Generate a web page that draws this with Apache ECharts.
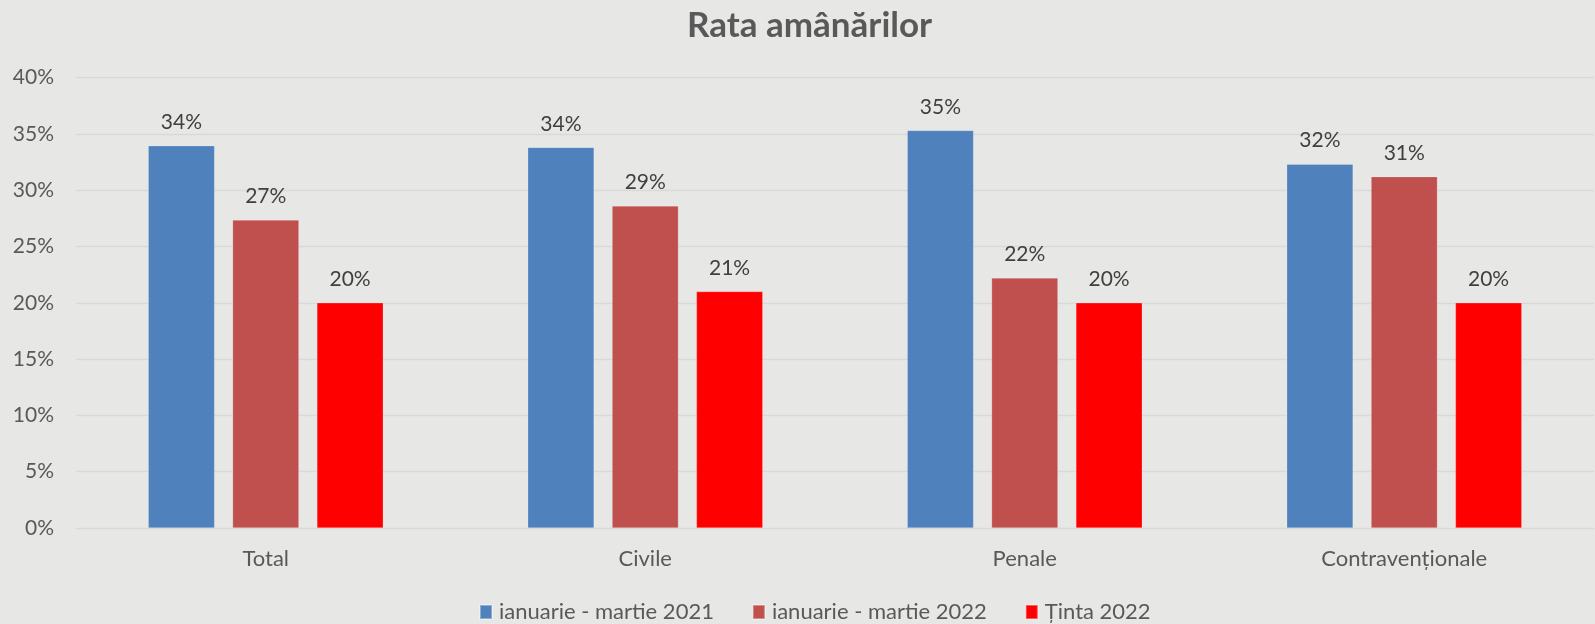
<!DOCTYPE html>
<html>
<head>
<meta charset="utf-8">
<script src="https://cdn.jsdelivr.net/npm/echarts@6/dist/echarts.min.js"></script>
<style>
html,body{margin:0;padding:0;background:#e7e7e5;}
#c{width:1595px;height:624px;}
</style>
</head>
<body>
<div id="c"></div>
<script>
const categories = ['Total', 'Civile', 'Penale', 'Contravenționale'];
const seriesNames = ['ianuarie - martie 2021', 'ianuarie - martie 2022', 'Ținta 2022'];
const jan2021 = [33.95, 33.8, 35.3, 32.3];
const jan2022 = [27.35, 28.6, 22.2, 31.2];
const tinta2022 = [20, 21, 20, 20];
const yTicks = [0, 5, 10, 15, 20, 25, 30, 35, 40];
const colors = ['#4f81bd', '#c0504d', '#ff0000'];
const FONT = 'Lato';

const chart = echarts.init(document.getElementById('c'), null, {renderer: 'canvas'});
const dataArr = [jan2021, jan2022, tinta2022];
chart.setOption({
  backgroundColor: '#e7e7e5',
  animation: false,
  title: {
    text: 'Rata amânărilor',
    left: 682,
    top: 3,
    textStyle: {fontFamily: FONT, fontSize: 35, fontWeight: 'bold', color: '#595959'}
  },
  legend: {
    bottom: -4,
    left: 474,
    itemWidth: 12,
    itemHeight: 14,
    itemGap: 38,
    icon: 'rect',
    textStyle: {fontFamily: FONT, fontSize: 22, color: '#595959', padding: [0, 0, 0, 2]},
    data: seriesNames
  },
  grid: {left: 76, right: 1, top: 77.5, bottom: 96, containLabel: false},
  xAxis: {
    type: 'category',
    data: categories,
    axisLine: {show: true, lineStyle: {color: '#d9d9d9', width: 1}},
    axisTick: {show: false},
    axisLabel: {fontFamily: FONT, fontSize: 22, color: '#595959', margin: 20}
  },
  yAxis: {
    type: 'value',
    min: yTicks[0],
    max: yTicks[yTicks.length - 1],
    interval: 5,
    axisLine: {show: false},
    axisTick: {show: false},
    splitLine: {lineStyle: {color: '#d9d9d9', width: 1.3}},
    axisLabel: {fontFamily: FONT, fontSize: 21, color: '#595959', margin: 22, formatter: v => v + '%'}
  },
  series: seriesNames.map((n, i) => ({
    name: n,
    type: 'bar',
    data: dataArr[i],
    barWidth: '17.5%',
    barGap: '27%',
    itemStyle: {color: colors[i], borderColor: 'rgba(255,255,255,0.35)', borderWidth: 0.6},
    label: {
      show: true,
      position: 'top',
      distance: 13,
      fontFamily: FONT,
      fontSize: 21,
      color: '#404040',
      formatter: p => Math.round(p.value) + '%'
    }
  }))
});
</script>
</body>
</html>
